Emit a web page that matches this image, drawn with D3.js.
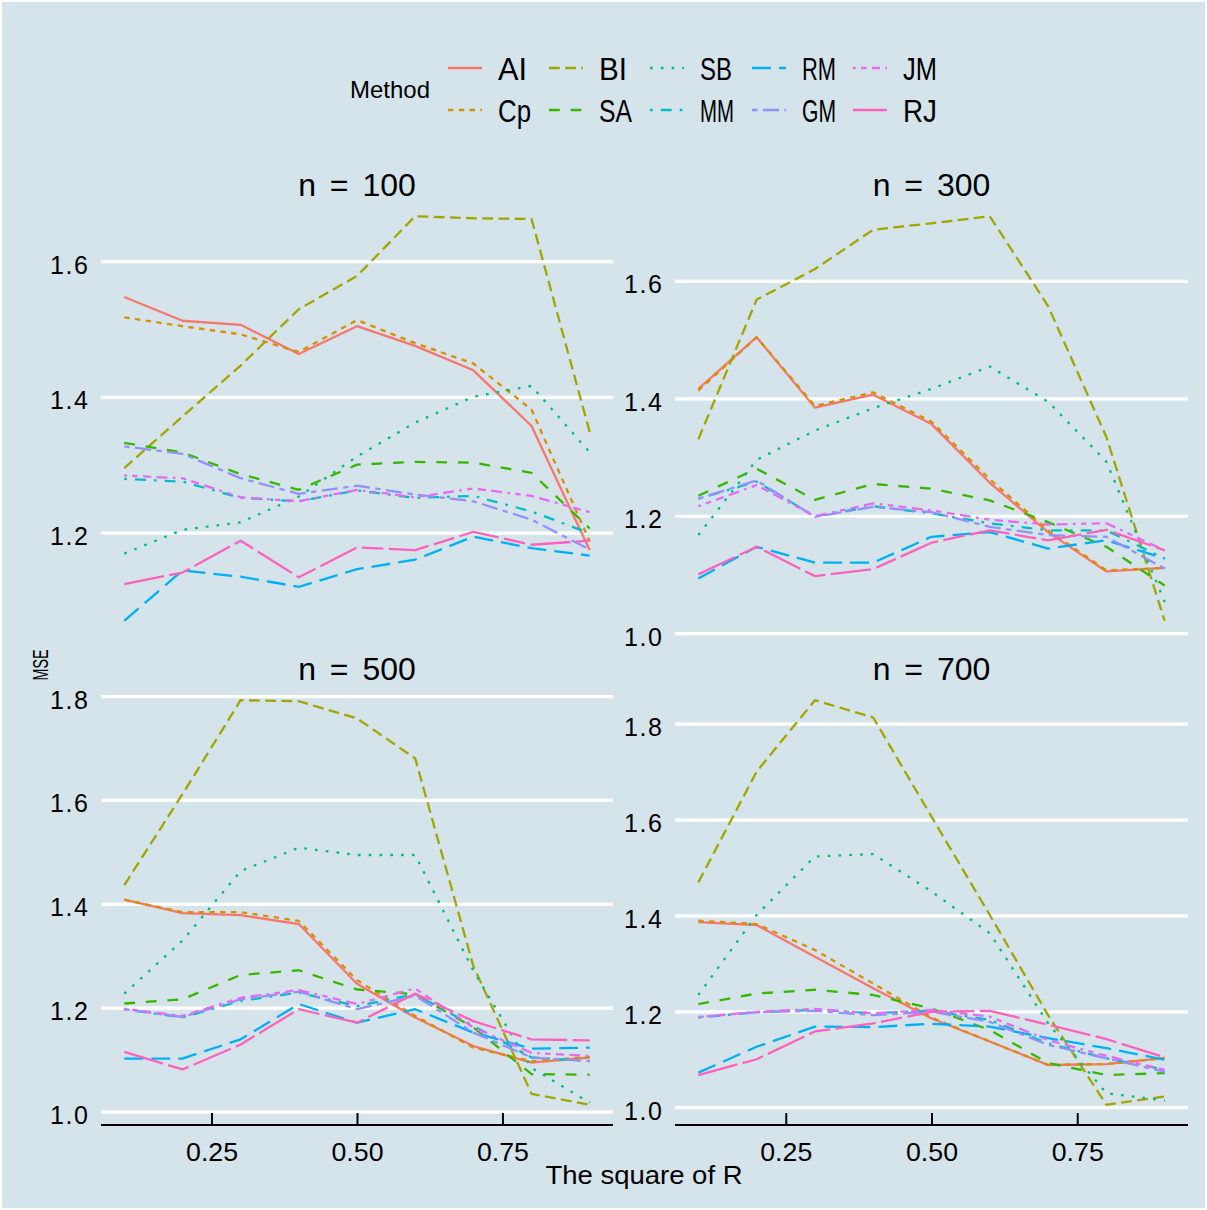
<!DOCTYPE html>
<html>
<head>
<meta charset="utf-8">
<script src="https://cdn.jsdelivr.net/npm/d3@7"></script>
<style>
  html, body { margin: 0; padding: 0; background: #d5e4eb; }
  svg { display: block; }
</style>
</head>
<body>
<div id="chart"></div>
<script>
// ---------------- DATA ----------------
const rsq = [0.1, 0.2, 0.3, 0.4, 0.5, 0.6, 0.7, 0.8, 0.9];
const methods = ["AI", "Cp", "BI", "SA", "SB", "MM", "RM", "GM", "JM", "RJ"];
const methodColors = ["#F8766D", "#D89000", "#A3A500", "#39B600", "#00BF7D", "#00BFC4", "#00B0F6", "#9590FF", "#E76BF3", "#FF62BC"];
const methodLty = ["solid", "22", "42", "44", "13", "1343", "73", "2262", "12223242", "F282"];
const panelTitles = ["n = 100", "n = 300", "n = 500", "n = 700"];
const xTicks = [0.25, 0.50, 0.75];
const yTicks = [1.0, 1.2, 1.4, 1.6, 1.8];

// rows follow `methods` order
const mseN100 = [
  [1.548, 1.513, 1.507, 1.464, 1.505, 1.476, 1.440, 1.358, 1.175], // AI
  [1.518, 1.505, 1.493, 1.467, 1.514, 1.480, 1.450, 1.382, 1.188], // Cp
  [1.296, 1.372, 1.447, 1.530, 1.579, 1.667, 1.664, 1.663, 1.349], // BI
  [1.333, 1.319, 1.287, 1.264, 1.301, 1.305, 1.304, 1.289, 1.207], // SA
  [1.170, 1.205, 1.216, 1.254, 1.313, 1.363, 1.401, 1.417, 1.319], // SB
  [1.280, 1.276, 1.252, 1.247, 1.263, 1.252, 1.255, 1.232, 1.200], // MM
  [1.071, 1.145, 1.136, 1.121, 1.147, 1.161, 1.195, 1.178, 1.167], // RM
  [1.328, 1.317, 1.281, 1.258, 1.270, 1.257, 1.247, 1.220, 1.176], // GM
  [1.285, 1.281, 1.253, 1.247, 1.264, 1.253, 1.266, 1.255, 1.231], // JM
  [1.125, 1.142, 1.189, 1.135, 1.179, 1.175, 1.202, 1.183, 1.189]  // RJ
];
const mseN300 = [
  [1.417, 1.505, 1.385, 1.407, 1.357, 1.257, 1.173, 1.106, 1.112], // AI
  [1.414, 1.505, 1.388, 1.411, 1.361, 1.263, 1.176, 1.108, 1.112], // Cp
  [1.331, 1.569, 1.621, 1.688, 1.699, 1.711, 1.558, 1.335, 1.022], // BI
  [1.235, 1.281, 1.228, 1.255, 1.247, 1.227, 1.190, 1.148, 1.082], // SA
  [1.168, 1.296, 1.346, 1.384, 1.417, 1.455, 1.395, 1.293, 1.054], // SB
  [1.230, 1.259, 1.200, 1.217, 1.205, 1.188, 1.176, 1.176, 1.128], // MM
  [1.094, 1.148, 1.121, 1.121, 1.165, 1.173, 1.145, 1.159, 1.128], // RM
  [1.230, 1.261, 1.199, 1.216, 1.207, 1.182, 1.168, 1.165, 1.111], // GM
  [1.217, 1.253, 1.200, 1.222, 1.210, 1.194, 1.186, 1.188, 1.142], // JM
  [1.101, 1.148, 1.098, 1.110, 1.155, 1.176, 1.159, 1.177, 1.142]  // RJ
];
const mseN500 = [
  [1.409, 1.383, 1.379, 1.362, 1.247, 1.182, 1.127, 1.095, 1.105], // AI
  [1.409, 1.385, 1.385, 1.368, 1.254, 1.185, 1.124, 1.098, 1.106], // Cp
  [1.437, 1.612, 1.793, 1.791, 1.758, 1.681, 1.281, 1.035, 1.014], // BI
  [1.209, 1.217, 1.264, 1.273, 1.236, 1.227, 1.163, 1.073, 1.072], // SA
  [1.228, 1.330, 1.464, 1.509, 1.495, 1.495, 1.272, 1.085, 1.018], // SB
  [1.198, 1.182, 1.214, 1.230, 1.204, 1.227, 1.166, 1.105, 1.098], // MM
  [1.103, 1.103, 1.140, 1.208, 1.172, 1.198, 1.153, 1.122, 1.124], // RM
  [1.198, 1.183, 1.217, 1.232, 1.198, 1.224, 1.153, 1.105, 1.098], // GM
  [1.199, 1.185, 1.220, 1.235, 1.208, 1.238, 1.163, 1.114, 1.108], // JM
  [1.116, 1.082, 1.130, 1.198, 1.172, 1.228, 1.175, 1.140, 1.138]  // RJ
];
const mseN700 = [
  [1.387, 1.381, 1.315, 1.249, 1.186, 1.138, 1.089, 1.091, 1.104], // AI
  [1.390, 1.383, 1.329, 1.259, 1.188, 1.138, 1.089, 1.091, 1.103], // Cp
  [1.470, 1.701, 1.850, 1.814, 1.607, 1.402, 1.193, 1.006, 1.023], // BI
  [1.216, 1.238, 1.246, 1.235, 1.207, 1.162, 1.093, 1.068, 1.072], // SA
  [1.235, 1.402, 1.524, 1.529, 1.451, 1.364, 1.176, 1.030, 1.015], // SB
  [1.188, 1.199, 1.204, 1.197, 1.202, 1.183, 1.134, 1.103, 1.079], // MM
  [1.073, 1.127, 1.169, 1.168, 1.175, 1.169, 1.145, 1.124, 1.100], // RM
  [1.189, 1.199, 1.202, 1.193, 1.200, 1.179, 1.131, 1.103, 1.075], // GM
  [1.189, 1.200, 1.206, 1.197, 1.204, 1.190, 1.141, 1.108, 1.079], // JM
  [1.068, 1.101, 1.159, 1.176, 1.200, 1.202, 1.173, 1.143, 1.105]  // RJ
];
const panelData = [mseN100, mseN300, mseN500, mseN700];

// ---------------- LAYOUT ----------------
const W = 1207, H = 1210;
const BG = "#d5e4eb";
const panelX = [[101, 613], [675, 1188]];
const panelY = [[196, 641], [680, 1125]];
const unit = 2.7; // dash unit in px
const lineW = 2.3;
const legendLabelWidths = [29, 33, 28, 33, 32, 34, 34, 34, 34, 34];

function dashArray(lty) {
  if (lty === "solid") return null;
  return lty.split("").map(c => parseInt(c, 16) * unit).join(",");
}

const svg = d3.select("#chart").append("svg")
  .attr("width", W).attr("height", H)
  .attr("viewBox", `0 0 ${W} ${H}`);

svg.append("rect")
  .attr("x", 1).attr("y", 1).attr("width", W - 2).attr("height", H - 2)
  .attr("fill", BG).attr("stroke", "#ffffff").attr("stroke-width", 2);

const font = "'Liberation Sans', Arial, sans-serif";

panelData.forEach((rows, pi) => {
  const col = pi % 2, row = Math.floor(pi / 2);
  const [x0, x1] = panelX[col];
  const [y0, y1] = panelY[row];

  const x = d3.scaleLinear().domain([0.06, 0.94]).range([x0, x1]);
  const all = rows.flat();
  const lo = d3.min(all), hi = d3.max(all);
  const pad = (hi - lo) * 0.05;
  const y = d3.scaleLinear().domain([lo - pad, hi + pad]).range([y1, y0]);

  const g = svg.append("g");

  // gridlines
  const ticks = yTicks.filter(t => t >= y.domain()[0] && t <= y.domain()[1]);
  g.selectAll("line.grid").data(ticks).enter().append("line")
    .attr("x1", x0).attr("x2", x1)
    .attr("y1", d => y(d)).attr("y2", d => y(d))
    .attr("stroke", "#ffffff").attr("stroke-width", 3.2);

  // y tick labels
  g.selectAll("text.yt").data(ticks).enter().append("text")
    .attr("x", x0 - 13).attr("y", d => y(d) + 3)
    .attr("text-anchor", "end").attr("dominant-baseline", "central")
    .attr("font-family", font).attr("font-size", 25)
    .attr("textLength", 38).attr("lengthAdjust", "spacing")
    .attr("fill", "#000")
    .text(d => d3.format(".1f")(d));

  // panel title
  g.append("text")
    .attr("x", (x0 + x1) / 2).attr("y", y0)
    .attr("text-anchor", "middle")
    .attr("font-family", font).attr("font-size", 32)
    .attr("word-spacing", 5)
    .attr("fill", "#000")
    .text(panelTitles[pi]);

  // lines
  const line = d3.line().x((d, i) => x(rsq[i])).y(d => y(d));
  rows.forEach((vals, mi) => {
    const p = g.append("path")
      .datum(vals)
      .attr("d", line)
      .attr("fill", "none")
      .attr("stroke", methodColors[mi])
      .attr("stroke-width", lineW)
      .attr("stroke-linejoin", "round");
    const da = dashArray(methodLty[mi]);
    if (da) p.attr("stroke-dasharray", da);
  });

  // x axis on bottom row
  if (row === 1) {
    const axis = d3.axisBottom(x).tickValues(xTicks).tickSize(-12).tickPadding(18)
      .tickFormat(d3.format(".2f"));
    const ax = g.append("g").attr("transform", `translate(0,${y1})`).call(axis);
    ax.select(".domain").attr("stroke", "#000").attr("stroke-width", 2.2)
      .attr("d", `M${x0},0H${x1}`);
    ax.selectAll(".tick line").attr("stroke", "#000").attr("stroke-width", 2);
    ax.selectAll(".tick text")
      .attr("font-family", font).attr("font-size", 26).attr("fill", "#000")
      .attr("dy", "0.71em")
      .attr("textLength", 52).attr("lengthAdjust", "spacingAndGlyphs");
  }
});

// axis titles
svg.append("text")
  .attr("x", 644).attr("y", 1184)
  .attr("text-anchor", "middle")
  .attr("font-family", font).attr("font-size", 26).attr("fill", "#000")
  .attr("textLength", 197).attr("lengthAdjust", "spacingAndGlyphs")
  .text("The square of R");

svg.append("text")
  .attr("transform", "translate(48,665) rotate(-90)")
  .attr("text-anchor", "middle")
  .attr("font-family", font).attr("font-size", 22).attr("fill", "#000")
  .attr("textLength", 31).attr("lengthAdjust", "spacingAndGlyphs")
  .text("MSE");

// legend
const legend = svg.append("g");
legend.append("text")
  .attr("x", 350).attr("y", 89)
  .attr("dominant-baseline", "central")
  .attr("font-family", font).attr("font-size", 24).attr("fill", "#000")
  .attr("textLength", 80).attr("lengthAdjust", "spacingAndGlyphs")
  .text("Method");

const keyX = [448, 549, 650, 752, 853];
const keyY = [68, 110];
methods.forEach((m, i) => {
  const c = Math.floor(i / 2), r = i % 2;
  const kx = keyX[c], ky = keyY[r];
  const ln = legend.append("line")
    .attr("x1", kx).attr("x2", kx + 34)
    .attr("y1", ky).attr("y2", ky)
    .attr("stroke", methodColors[i]).attr("stroke-width", lineW);
  const da = dashArray(methodLty[i]);
  if (da) ln.attr("stroke-dasharray", da);
  legend.append("text")
    .attr("x", kx + 50).attr("y", ky + 1)
    .attr("dominant-baseline", "central")
    .attr("font-family", font).attr("font-size", 31).attr("fill", "#000")
    .attr("textLength", legendLabelWidths[i]).attr("lengthAdjust", "spacingAndGlyphs")
    .text(m);
});
</script>
</body>
</html>
